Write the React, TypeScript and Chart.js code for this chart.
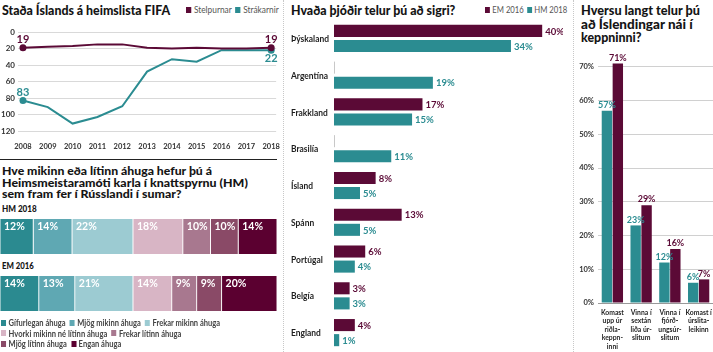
import React, { useEffect, useLayoutEffect, useRef } from "react";
import { Chart, registerables } from "chart.js";
Chart.register(...registerables);

const MAROON = "#5b0a36";
const TEAL = "#2b8c91";
const FONT = 'Lato, "Noto Sans", sans-serif';
Chart.defaults.font.family = FONT;

// ---- Panel 1: FIFA ranking ----
const years = [2008, 2009, 2010, 2011, 2012, 2013, 2014, 2015, 2016, 2017, 2018];
const womenRank = [19, 18, 17, 15, 15, 19, 20, 19, 20, 20, 19];
const menRank = [83, 91, 111, 103, 90, 48, 33, 36, 22, 22, 22];
const rankTicks = [0, 20, 40, 60, 80, 100, 120];

// ---- Panel 2: interest ----
const interestLevels = [
  "Gífurlegan áhuga",
  "Mjög mikinn áhuga",
  "Frekar mikinn áhuga",
  "Hvorki mikinn né lítinn áhuga",
  "Frekar lítinn áhuga",
  "Mjög lítinn áhuga",
  "Engan áhuga",
];
const interestColors = ["#2b8a90", "#5fa8b3", "#9ccbd2", "#d8b5c5", "#a8788f", "#8a4a67", "#5b0030"];
const surveys = ["HM 2018", "EM 2016"];
const interestHM2018 = [12, 14, 22, 18, 10, 10, 14];
const interestEM2016 = [14, 13, 21, 14, 9, 9, 20];
const legendRows = [3, 2, 2];
const legendRowWidths = [219, 180, 120];

// ---- Panel 3: who wins ----
const nations = ["Þýskaland", "Argentína", "Frakkland", "Brasilía", "Ísland", "Spánn", "Portúgal", "Belgía", "England"];
const winnerEM2016 = [40, 0, 17, 0, 8, 13, 6, 3, 4];
const winnerHM2018 = [34, 19, 15, 11, 5, 5, 4, 3, 1];

// ---- Panel 4: how far ----
const stages = [
  ["Komast", "upp úr", "riðla-", "keppn-", "inni"],
  ["Vinna í", "sextán", "liða úr-", "slitum"],
  ["Vinna í", "fjórð-", "ungsúr-", "slitum"],
  ["Komast í", "úrslita-", "leikinn"],
];
const stageHM2018 = [57, 23, 12, 6];
const stageEM2016 = [71, 29, 16, 7];
const pctTicks = [0, 10, 20, 30, 40, 50, 60, 70];

function ChartCanvas({ left, top, width, height, make }: any) {
  const ref = useRef<HTMLCanvasElement>(null);
  useEffect(() => {
    const c = new Chart(ref.current!, make());
    return () => c.destroy();
  }, []);
  return (
    <canvas
      ref={ref}
      width={width}
      height={height}
      style={{ position: "absolute", left, top, width, height }}
    />
  );
}

// draw text condensed horizontally
function drawText(ctx: any, text: string, x: number, y: number, sx: number) {
  ctx.save();
  ctx.translate(x, y);
  ctx.scale(sx, 1);
  ctx.fillText(text, 0, 0);
  ctx.restore();
}

const endLabels = {
  id: "endLabels",
  afterDatasetsDraw(chart: any) {
    const ctx = chart.ctx;
    chart.data.datasets.forEach((ds: any, di: number) => {
      const meta = chart.getDatasetMeta(di);
      const n = meta.data.length;
      [0, n - 1].forEach((idx, k) => {
        const el = meta.data[idx];
        const pos = ds.endPos[k];
        ctx.save();
        ctx.font = `bold 11px ${FONT}`;
        ctx.fillStyle = ds.borderColor;
        ctx.textAlign = "center";
        ctx.textBaseline = pos === "above" ? "bottom" : "top";
        ctx.fillText(String(ds.data[idx].y), el.x, pos === "above" ? el.y - 3 : el.y + 3);
        ctx.restore();
      });
    });
  },
};

const segLabels = {
  id: "segLabels",
  afterDatasetsDraw(chart: any) {
    const ctx = chart.ctx;
    chart.data.datasets.forEach((ds: any, di: number) => {
      chart.getDatasetMeta(di).data.forEach((el: any, i: number) => {
        const p = el.getProps(["x", "y", "base", "height"], true);
        ctx.save();
        ctx.font = `bold 10.5px ${FONT}`;
        ctx.fillStyle = "#ffffff";
        ctx.textAlign = "left";
        ctx.textBaseline = "top";
        ctx.fillText(ds.data[i] + "%", Math.min(p.x, p.base) + 4, p.y - p.height / 2 + 3);
        ctx.restore();
      });
    });
  },
};

const hbarLabels = {
  id: "hbarLabels",
  afterDatasetsDraw(chart: any) {
    const ctx = chart.ctx;
    const ys = chart.scales.y;
    ctx.save();
    ctx.font = `bold 9.5px ${FONT}`;
    ctx.fillStyle = "#1e1e1e";
    ctx.textAlign = "left";
    ctx.textBaseline = "middle";
    const sx = 38 / ctx.measureText(nations[0]).width;
    chart.data.labels.forEach((lab: string, i: number) => {
      drawText(ctx, lab, 1, ys.getPixelForValue(i) + 0.5, sx);
    });
    ctx.restore();
    chart.data.datasets.forEach((ds: any, di: number) => {
      chart.getDatasetMeta(di).data.forEach((el: any, i: number) => {
        const p = el.getProps(["x", "y", "base", "height"], true);
        const v = ds.data[i];
        ctx.save();
        if (v === 0) {
          ctx.strokeStyle = "#c8c8c8";
          ctx.lineWidth = 1;
          ctx.beginPath();
          ctx.moveTo(p.base + 0.5, p.y - p.height / 2);
          ctx.lineTo(p.base + 0.5, p.y + p.height / 2);
          ctx.stroke();
        } else {
          ctx.font = `bold 10px ${FONT}`;
          ctx.fillStyle = ds.backgroundColor;
          ctx.textAlign = "left";
          ctx.textBaseline = "middle";
          drawText(ctx, v + "%", p.x + 3, p.y + 0.5, 0.95);
        }
        ctx.restore();
      });
    });
  },
};

const vbarLabels = {
  id: "vbarLabels",
  afterDatasetsDraw(chart: any) {
    const ctx = chart.ctx;
    const xs = chart.scales.x;
    ctx.save();
    ctx.font = `bold 8px ${FONT}`;
    ctx.fillStyle = "#1e1e1e";
    ctx.textAlign = "center";
    ctx.textBaseline = "middle";
    const sx = 23 / ctx.measureText(stages[0][0]).width;
    chart.data.labels.forEach((lines: string[], i: number) => {
      const cx = xs.getPixelForValue(i);
      lines.forEach((ln, k) => drawText(ctx, ln, cx, xs.top + 9 + k * 8.6, sx));
    });
    ctx.restore();
    chart.data.datasets.forEach((ds: any, di: number) => {
      chart.getDatasetMeta(di).data.forEach((el: any, i: number) => {
        const p = el.getProps(["x", "y"], true);
        ctx.save();
        ctx.font = `bold 9.5px ${FONT}`;
        ctx.fillStyle = ds.backgroundColor;
        ctx.textAlign = "center";
        ctx.textBaseline = "bottom";
        drawText(ctx, ds.data[i] + "%", p.x, p.y - 1, 0.95);
        ctx.restore();
      });
    });
  },
};

const noUi = { legend: { display: false }, tooltip: { enabled: false } };

function makeLine() {
  const ptR = (ctx: any) => (ctx.dataIndex === 0 || ctx.dataIndex === years.length - 1 ? 3.5 : 0);
  return {
    type: "line",
    data: {
      datasets: [
        {
          label: "Stelpurnar",
          data: years.map((y, i) => ({ x: y, y: womenRank[i] })),
          borderColor: MAROON,
          backgroundColor: MAROON,
          borderWidth: 2,
          pointRadius: ptR,
          pointBorderWidth: 0,
          endPos: ["above", "above"],
        },
        {
          label: "Strákarnir",
          data: years.map((y, i) => ({ x: y, y: menRank[i] })),
          borderColor: TEAL,
          backgroundColor: TEAL,
          borderWidth: 2,
          pointRadius: ptR,
          pointBorderWidth: 0,
          endPos: ["above", "below"],
        },
      ],
    },
    options: {
      responsive: false,
      animation: false,
      layout: { padding: { top: 32, right: 6, left: 0, bottom: 0 } },
      plugins: noUi,
      scales: {
        x: {
          type: "linear",
          min: 2007.8,
          max: 2018.2,
          afterBuildTicks: (s: any) => {
            s.ticks = years.map((v) => ({ value: v }));
          },
          afterFit: (s: any) => {
            s.height = 19;
          },
          grid: { display: false },
          border: { display: false },
          ticks: {
            autoSkip: false,
            maxRotation: 0,
            padding: 3,
            color: "#333",
            font: { size: 7.5, weight: "bold" },
            callback: (v: any) => String(v),
          },
        },
        y: {
          reverse: true,
          min: 0,
          max: 120,
          afterBuildTicks: (s: any) => {
            s.ticks = rankTicks.map((v) => ({ value: v }));
          },
          afterFit: (s: any) => {
            s.width = 18;
          },
          grid: { color: "#d9d9d9", drawTicks: false },
          border: { display: false },
          ticks: {
            autoSkip: false,
            padding: 3,
            color: "#333",
            font: { size: 8, weight: "bold" },
            callback: (v: any) => String(v),
          },
        },
      },
    },
    plugins: [endLabels],
  } as any;
}

function makeStack() {
  return {
    type: "bar",
    data: {
      labels: surveys,
      datasets: interestLevels.map((l, i) => ({
        label: l,
        data: [interestHM2018[i], interestEM2016[i]],
        backgroundColor: interestColors[i],
        borderColor: "#ffffff",
        borderWidth: 0.8,
        borderSkipped: false,
        barThickness: 36,
      })),
    },
    options: {
      indexAxis: "y",
      responsive: false,
      animation: false,
      layout: { padding: 0 },
      plugins: noUi,
      scales: {
        x: { stacked: true, min: 0, max: 100, display: false },
        y: { stacked: true, display: false },
      },
    },
    plugins: [segLabels],
  } as any;
}

function makeHBar() {
  return {
    type: "bar",
    data: {
      labels: nations,
      datasets: [
        { label: "EM 2016", data: winnerEM2016, backgroundColor: MAROON },
        { label: "HM 2018", data: winnerHM2018, backgroundColor: TEAL },
      ],
    },
    options: {
      indexAxis: "y",
      responsive: false,
      animation: false,
      layout: { padding: 0 },
      datasets: { bar: { categoryPercentage: 0.82, barPercentage: 0.8 } },
      plugins: noUi,
      scales: {
        x: { min: 0, max: 44, display: false },
        y: {
          afterFit: (s: any) => {
            s.width = 44;
          },
          grid: { display: false },
          border: { display: false },
          ticks: { display: false },
        },
      },
    },
    plugins: [hbarLabels],
  } as any;
}

function makeVBar() {
  return {
    type: "bar",
    data: {
      labels: stages,
      datasets: [
        { label: "HM 2018", data: stageHM2018, backgroundColor: TEAL },
        { label: "EM 2016", data: stageEM2016, backgroundColor: MAROON },
      ],
    },
    options: {
      responsive: false,
      animation: false,
      layout: { padding: { top: 10, right: 0, left: 0, bottom: 0 } },
      datasets: { bar: { categoryPercentage: 0.76, barPercentage: 0.95 } },
      plugins: noUi,
      scales: {
        x: {
          afterFit: (s: any) => {
            s.height = 49;
          },
          grid: { display: false },
          border: { display: false },
          ticks: { display: false },
        },
        y: {
          min: 0,
          max: 75,
          afterBuildTicks: (s: any) => {
            s.ticks = pctTicks.map((v) => ({ value: v }));
          },
          afterFit: (s: any) => {
            s.width = 23;
          },
          grid: {
            color: (c: any) => (c.tick && c.tick.value === 0 ? "#999" : "#d0d0d0"),
            drawTicks: false,
          },
          border: { display: false },
          ticks: {
            autoSkip: false,
            padding: 4,
            color: "#333",
            font: { size: 7.5, weight: "bold" },
            callback: (v: any) => v + "%",
          },
        },
      },
    },
    plugins: [vbarLabels],
  } as any;
}

// Text squeezed horizontally to a target width (keeps real text)
function Fit({ w, children, style }: any) {
  const ref = useRef<HTMLSpanElement>(null);
  useLayoutEffect(() => {
    const el = ref.current!;
    const natural = el.offsetWidth;
    if (natural > 0) el.style.transform = `scaleX(${w / natural})`;
  }, []);
  return (
    <span
      ref={ref}
      style={{
        display: "inline-block",
        whiteSpace: "nowrap",
        transformOrigin: "left top",
        ...style,
      }}
    >
      {children}
    </span>
  );
}

const titleStyle: any = {
  position: "absolute",
  fontFamily: FONT,
  fontWeight: 900,
  fontSize: 12,
  color: "#151515",
  whiteSpace: "nowrap",
};

function Sq({ color, size = 6 }: { color: string; size?: number }) {
  return (
    <span
      style={{
        display: "inline-block",
        width: size,
        height: size,
        background: color,
        marginRight: 3,
        verticalAlign: "middle",
        position: "relative",
        top: -1,
      }}
    />
  );
}

function SmallLegend({ left, top, w, items }: any) {
  return (
    <div
      style={{
        position: "absolute",
        left,
        top,
        fontFamily: FONT,
        fontSize: 9.5,
        color: "#555",
        whiteSpace: "nowrap",
      }}
    >
      <Fit w={w}>
        {items.map((it: any, i: number) => (
          <span key={i} style={{ marginRight: i < items.length - 1 ? 4 : 0 }}>
            <Sq color={it.color} />
            {it.label}
          </span>
        ))}
      </Fit>
    </div>
  );
}

function TitleLines({ left, top, lh, size, lines }: any) {
  return (
    <div style={{ ...titleStyle, fontSize: size, left, top, lineHeight: lh + "px" }}>
      {lines.map((l: any, i: number) => (
        <div key={i} style={{ height: lh }}>
          <Fit w={l[1]}>{l[0]}</Fit>
        </div>
      ))}
    </div>
  );
}

export default function App() {
  let idx = 0;
  const rows = legendRows.map((n) => {
    const r = interestLevels.slice(idx, idx + n).map((l, k) => ({ label: l, color: interestColors[idx + k] }));
    idx += n;
    return r;
  });
  return (
    <div
      style={{
        position: "fixed",
        left: 0,
        top: 0,
        width: 713,
        height: 352,
        background: "#fff",
        overflow: "hidden",
      }}
    >
      {/* separators */}
      <div style={{ position: "absolute", left: 283, top: 0, height: 352, borderLeft: "1px dotted #c8c8c8" }} />
      <div style={{ position: "absolute", left: 573, top: 0, height: 352, borderLeft: "1px dotted #c8c8c8" }} />
      <div style={{ position: "absolute", left: 0, top: 159, width: 277, height: 1, background: "#222" }} />

      {/* Panel 1 */}
      <TitleLines left={2} top={2} lh={17} size={12.5} lines={[["Staða Íslands á heimslista FIFA", 168]]} />
      <SmallLegend
        left={186}
        top={4}
        w={93}
        items={[
          { label: "Stelpurnar", color: MAROON },
          { label: "Strákarnir", color: TEAL },
        ]}
      />
      <ChartCanvas left={0} top={0} width={283} height={150} make={makeLine} />

      {/* Panel 2 */}
      <TitleLines
        left={2}
        top={165}
        lh={11.5}
        size={12}
        lines={[
          ["Hve mikinn eða lítinn áhuga hefur þú á", 210],
          ["Heimsmeistaramóti karla í knattspyrnu (HM)", 246],
          ["sem fram fer í Rússlandi í sumar?", 180],
        ]}
      />
      <div style={{ ...titleStyle, fontSize: 9.5, left: 2, top: 203 }}>
        <Fit w={35}>{surveys[0]}</Fit>
      </div>
      <div style={{ ...titleStyle, fontSize: 9.5, left: 2, top: 260 }}>
        <Fit w={32}>{surveys[1]}</Fit>
      </div>
      <ChartCanvas left={0} top={208} width={277} height={114} make={makeStack} />
      <div
        style={{
          position: "absolute",
          left: 1,
          top: 318,
          fontFamily: FONT,
          fontWeight: "bold",
          fontSize: 9,
          color: "#444",
          lineHeight: "10.5px",
          whiteSpace: "nowrap",
        }}
      >
        {rows.map((r, ri) => (
          <div key={ri} style={{ height: 10.5 }}>
            <Fit w={legendRowWidths[ri]}>
              {r.map((it, k) => (
                <span key={k} style={{ marginRight: k < r.length - 1 ? 5 : 0 }}>
                  <Sq color={it.color} />
                  {it.label}
                </span>
              ))}
            </Fit>
          </div>
        ))}
      </div>

      {/* Panel 3 */}
      <TitleLines left={291} top={2} lh={17} size={12.5} lines={[["Hvaða þjóðir telur þú að sigri?", 164]]} />
      <SmallLegend
        left={485}
        top={4}
        w={82}
        items={[
          { label: "EM 2016", color: MAROON },
          { label: "HM 2018", color: TEAL },
        ]}
      />
      <ChartCanvas left={290} top={20} width={273} height={331} make={makeHBar} />

      {/* Panel 4 */}
      <TitleLines
        left={581}
        top={4}
        lh={13.5}
        size={13}
        lines={[
          ["Hversu langt telur þú", 119],
          ["að Íslendingar nái í", 112],
          ["keppninni?", 61],
        ]}
      />
      <ChartCanvas left={575} top={40} width={138} height={312} make={makeVBar} />
    </div>
  );
}
